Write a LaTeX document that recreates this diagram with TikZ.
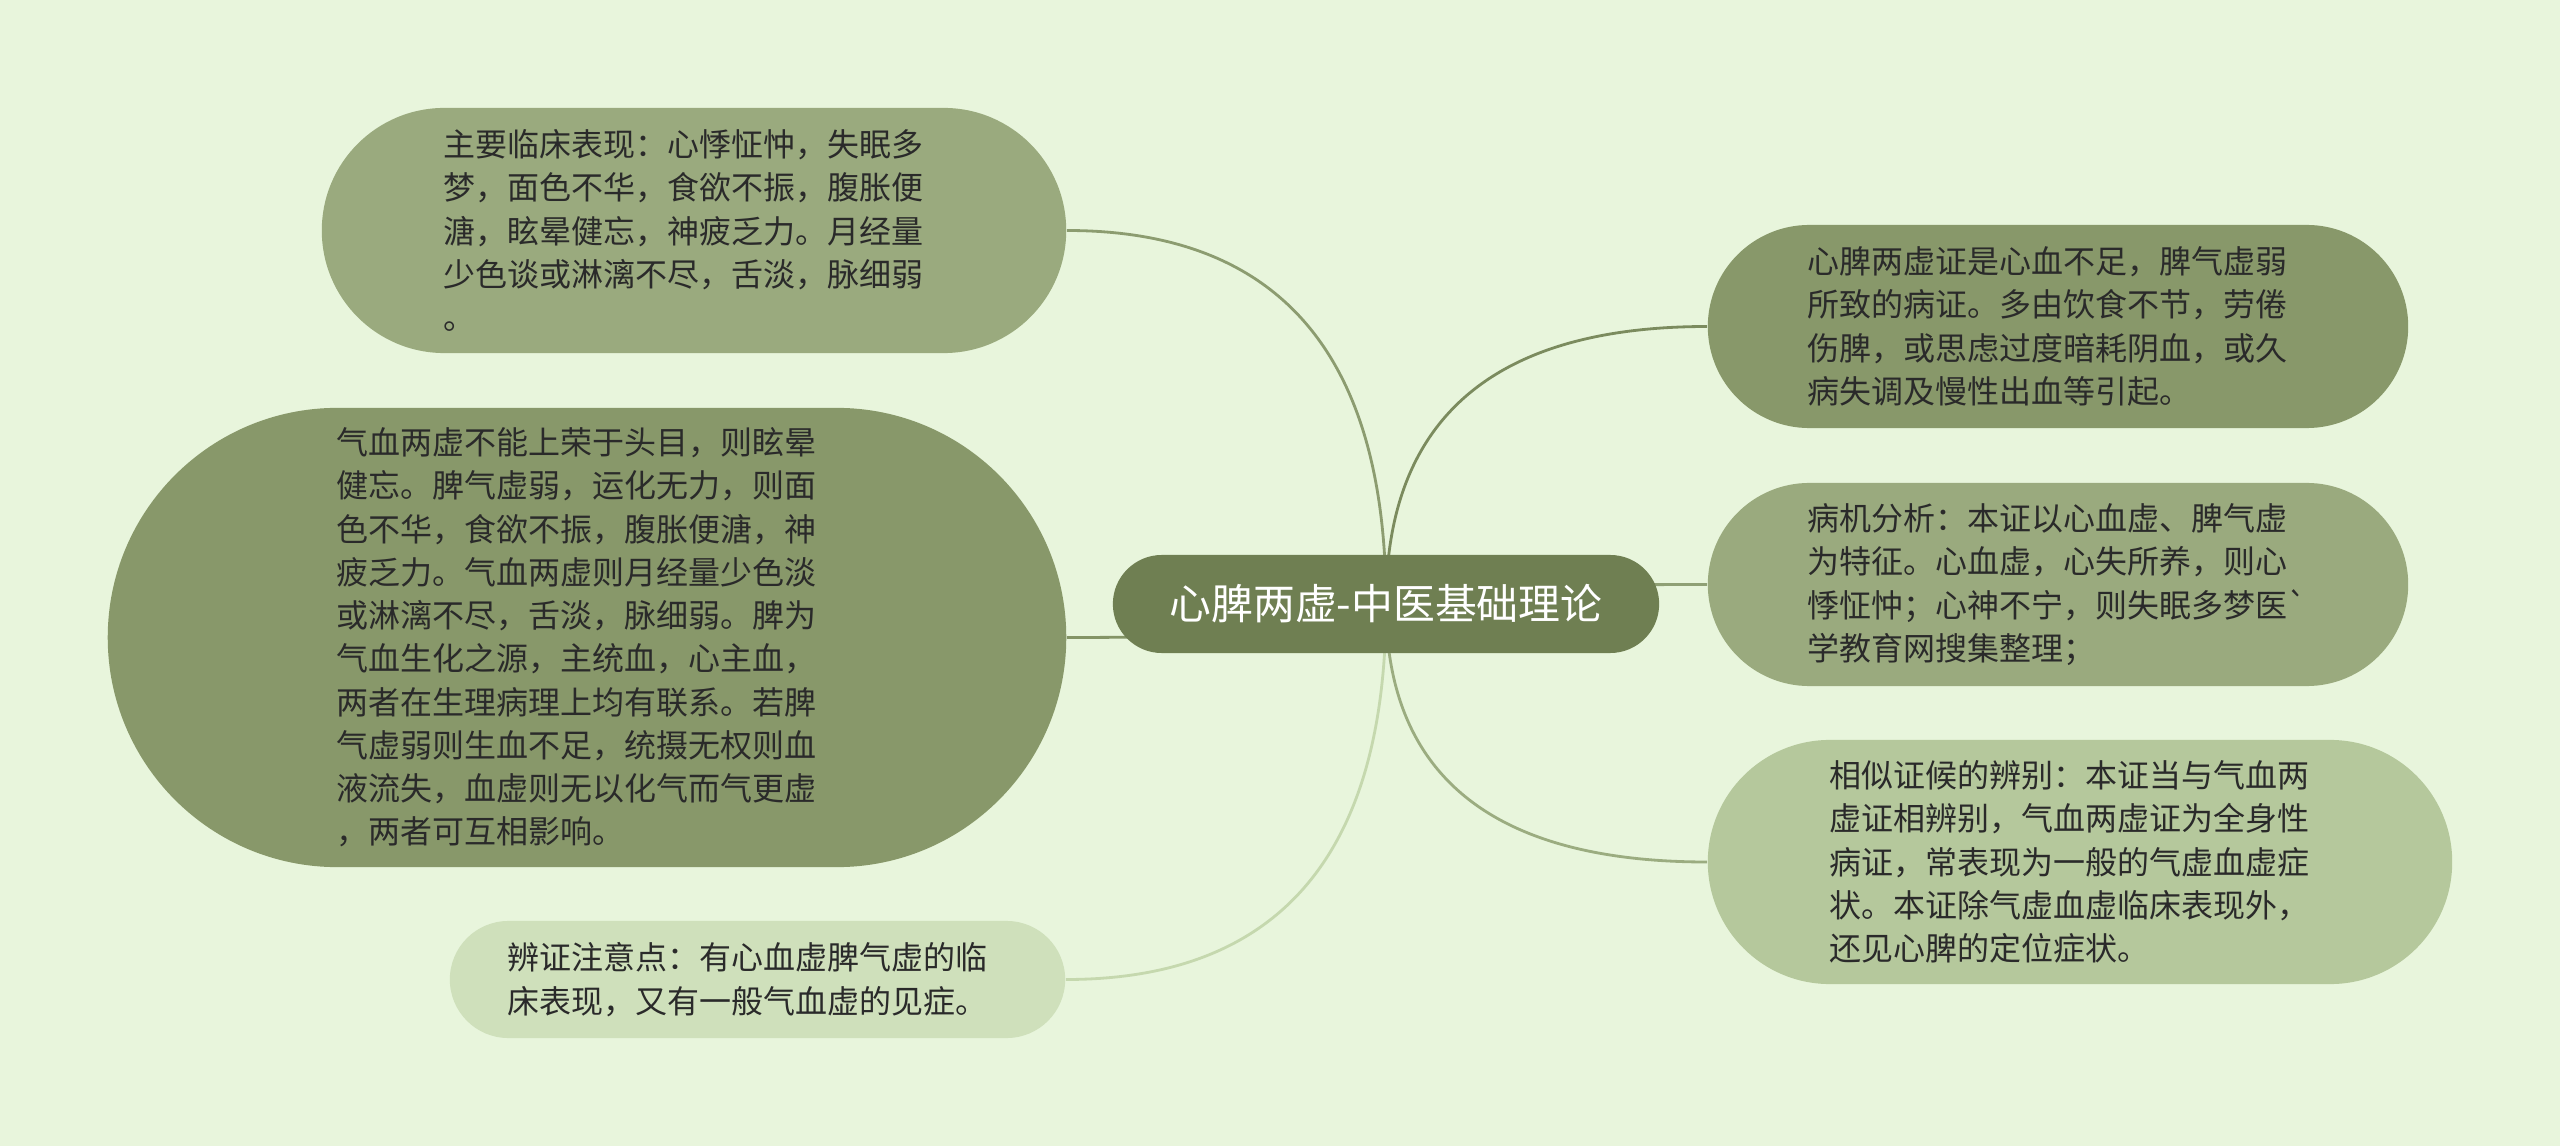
\documentclass[tikz,border=0pt]{standalone}
\usepackage{fontspec}
\newfontfamily\cjk{Noto Sans CJK SC}
\usetikzlibrary{shapes.misc,calc}
\definecolor{bgc}{HTML}{E8F5DC}
\definecolor{cenc}{HTML}{6F7F52}
\definecolor{fillA}{HTML}{9AAA7E}
\definecolor{fillB}{HTML}{88986A}
\definecolor{fillC}{HTML}{CFE0BB}
\definecolor{fillD}{HTML}{B5C89C}
\definecolor{txt}{HTML}{2A2A2A}
\definecolor{lnA}{HTML}{8C9C70}
\definecolor{lnB}{HTML}{849466}
\definecolor{lnC}{HTML}{C5D8AE}
\definecolor{lnD}{HTML}{7B8B5E}
\definecolor{lnE}{HTML}{8FA075}
\definecolor{lnF}{HTML}{9BAC80}
\pgfdeclarelayer{bg}
\pgfdeclarelayer{edges}
\pgfsetlayers{bg,edges,main}
\tikzset{
  leaf/.style={rounded rectangle, inner sep=0pt, text=txt, align=left,
    text width=5.0cm, font=\cjk\fontsize{9.1pt}{12.3pt}\selectfont},
  central/.style={rounded rectangle, inner sep=0pt, text=white, fill=cenc,
    font=\cjk\fontsize{11.9pt}{14pt}\selectfont},
  link/.style={line width=0.8pt}
}
\newcommand{\qlink}[3]{%
  \draw[link,#3] (#1.center) .. controls ($(#1.center)!0.6667!(#1.center |- #2)$)
    and ($(#2)!0.6667!(#1.center |- #2)$) .. (#2);}
\begin{document}
\begin{tikzpicture}[x=0.01cm,y=-0.01cm]
\begin{pgfonlayer}{bg}
\fill[bgc] (0,0) rectangle (2560,1146);
\end{pgfonlayer}
\useasboundingbox (0,0) rectangle (2560,1146);

\node[central, minimum width=5.46cm, minimum height=0.98cm] (c) at (1386,604)
  {心脾两虚-中医基础理论};

\node[leaf, fill=fillA, minimum width=7.44cm, minimum height=2.45cm] (n1) at (694,230.5)
  {主要临床表现：心悸怔忡，失眠多\\梦，面色不华，食欲不振，腹胀便\\溏，眩晕健忘，神疲乏力。月经量\\少色谈或淋漓不尽，舌淡，脉细弱\\。};

\node[leaf, fill=fillB, minimum width=9.58cm, minimum height=4.59cm] (n2) at (587,637.5)
  {气血两虚不能上荣于头目，则眩晕\\健忘。脾气虚弱，运化无力，则面\\色不华，食欲不振，腹胀便溏，神\\疲乏力。气血两虚则月经量少色淡\\或淋漓不尽，舌淡，脉细弱。脾为\\气血生化之源，主统血，心主血，\\两者在生理病理上均有联系。若脾\\气虚弱则生血不足，统摄无权则血\\液流失，血虚则无以化气而气更虚\\，两者可互相影响。};

\node[leaf, fill=fillC, minimum width=6.15cm, minimum height=1.17cm] (n3) at (757.5,979.5)
  {辨证注意点：有心血虚脾气虚的临\\床表现，又有一般气血虚的见症。};

\node[leaf, fill=fillB, minimum width=7.00cm, minimum height=2.03cm] (r1) at (2058,326.5)
  {心脾两虚证是心血不足，脾气虚弱\\所致的病证。多由饮食不节，劳倦\\伤脾，或思虑过度暗耗阴血，或久\\病失调及慢性出血等引起。};

\node[leaf, fill=fillA, minimum width=7.00cm, minimum height=2.03cm] (r2) at (2058,584.5)
  {病机分析：本证以心血虚、脾气虚\\为特征。心血虚，心失所养，则心\\悸怔忡；心神不宁，则失眠多梦医\textasciigrave\\学教育网搜集整理；};

\node[leaf, fill=fillD, minimum width=7.44cm, minimum height=2.44cm] (r3) at (2080,862)
  {相似证候的辨别：本证当与气血两\\虚证相辨别，气血两虚证为全身性\\病证，常表现为一般的气虚血虚症\\状。本证除气虚血虚临床表现外，\\还见心脾的定位症状。};

\begin{pgfonlayer}{edges}
\qlink{c}{n1.east}{lnA}
\qlink{c}{n2.east}{lnB}
\qlink{c}{n3.east}{lnC}
\qlink{c}{r1.west}{lnD}
\qlink{c}{r2.west}{lnE}
\qlink{c}{r3.west}{lnF}
\end{pgfonlayer}
\end{tikzpicture}
\end{document}
